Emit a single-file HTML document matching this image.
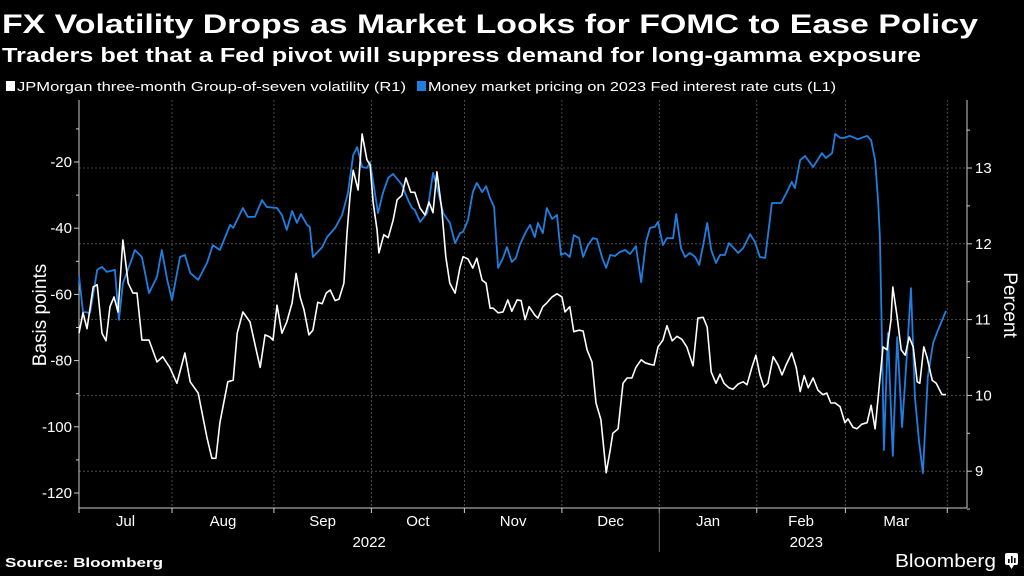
<!DOCTYPE html>
<html><head><meta charset="utf-8"><style>
html,body{margin:0;padding:0;background:#000;}
svg{display:block;font-family:"Liberation Sans",sans-serif;}
</style></head><body>
<svg id="chart" width="1024" height="576" viewBox="0 0 1024 576" xmlns="http://www.w3.org/2000/svg">
<rect width="1024" height="576" fill="#000"/>
<text x="2" y="33" fill="#fff" font-size="27" font-weight="bold" textLength="976" lengthAdjust="spacingAndGlyphs">FX Volatility Drops as Market Looks for FOMC to Ease Policy</text>
<text x="2" y="62" fill="#fff" font-size="20" font-weight="bold" textLength="919" lengthAdjust="spacingAndGlyphs">Traders bet that a Fed pivot will suppress demand for long-gamma exposure</text>
<g>
<g>
<rect x="6" y="81" width="9" height="10" fill="#fff"/>
<text x="17" y="91" fill="#fff" font-size="13" textLength="389" lengthAdjust="spacingAndGlyphs">JPMorgan three-month Group-of-seven volatility (R1)</text>
</g>
<g>
<rect x="417" y="81" width="9" height="10" fill="#1f7fe0"/>
<text x="428" y="91" fill="#fff" font-size="13" textLength="408" lengthAdjust="spacingAndGlyphs">Money market pricing on 2023 Fed interest rate cuts (L1)</text>
</g>
</g>
<g id="grid"></g>
<g id="axes"></g>
<g id="series"></g>
<text transform="translate(46,315) rotate(-90)" text-anchor="middle" fill="#fff" font-size="19">Basis points</text>
<text transform="translate(1004,305) rotate(90)" text-anchor="middle" fill="#fff" font-size="19">Percent</text>
<text x="5" y="567" fill="#fff" font-size="13" font-weight="bold" textLength="158" lengthAdjust="spacingAndGlyphs">Source: Bloomberg</text>
<g>
<text x="895" y="567" fill="#fff" font-size="18" textLength="101" lengthAdjust="spacingAndGlyphs">Bloomberg</text>
<rect x="1005" y="553" width="13" height="12" rx="2" fill="#fff"/>
<path d="M1009 565 L1011.5 569 L1014 565 Z" fill="#fff"/>
<rect x="1008" y="559" width="1.6" height="4" fill="#000"/><rect x="1011" y="556" width="1.6" height="7" fill="#000"/><rect x="1014" y="558" width="1.6" height="5" fill="#000"/>
</g>
</svg>
<script>
const monthLabels = ["Jul","Aug","Sep","Oct","Nov","Dec","Jan","Feb","Mar"];
const monthStartDays = [0,21,44,66,87,109,131,153,173,196];
const yearLabels = ["2022","2023"];
const leftTicks = [-20,-40,-60,-80,-100,-120];
const rightTicks = [9,10,11,12,13];
const blueDay = [0,0.9,2.5,4.1,5.2,6.3,8.1,9.0,9.9,12.0,12.6,14.2,15.8,17.6,18.7,19.9,21.0,22.8,23.9,25.1,26.9,28.9,30.2,31.8,34.1,34.8,37.0,38.1,39.7,41.3,42.4,44.7,45.8,46.9,48.1,49.2,50.1,51.5,52.1,52.8,54.9,56.0,57.8,59.4,60.7,61.9,62.8,63.9,65.0,65.7,66.4,67.5,68.6,69.8,70.9,72.9,74.3,75.2,75.8,77.0,78.6,79.9,81.0,82.2,83.7,84.9,86.0,86.7,87.8,88.9,89.8,91.0,91.9,92.8,93.7,94.6,95.7,96.6,97.7,98.6,99.5,100.7,101.8,102.9,103.6,104.7,105.6,106.8,107.9,108.8,109.7,110.8,111.7,112.9,113.8,114.9,116.0,116.9,118.1,119.0,119.9,121.0,122.1,123.3,124.4,125.7,126.9,128.0,128.9,130.0,130.7,131.8,132.7,134.1,134.8,135.9,136.8,137.9,139.1,140.0,140.9,141.8,142.7,143.8,144.7,145.8,146.7,147.6,148.8,149.9,151.5,152.6,153.7,154.9,156.4,158.5,159.8,160.9,161.6,162.8,163.9,165.7,167.7,168.6,170.0,170.7,171.8,172.9,174.0,175.8,177.9,178.8,179.7,180.4,180.8,181.3,181.7,182.6,183.7,184.7,185.8,186.9,187.8,188.7,189.6,190.5,191.6,192.8,193.9,195.7];
const blueVal = [-54.4,-65.3,-65.6,-52.6,-51.7,-53.2,-52.6,-67.7,-56.6,-49.0,-46.6,-48.7,-59.6,-54.7,-46.6,-55.6,-61.7,-48.7,-48.1,-53.5,-55.6,-50.5,-45.1,-46.6,-39.0,-39.9,-33.9,-36.6,-36.6,-31.5,-33.6,-33.9,-36.0,-40.5,-34.8,-38.4,-35.7,-39.0,-39.6,-48.7,-45.7,-42.7,-39.9,-36.0,-29.4,-17.9,-15.5,-21.5,-21.8,-20.0,-26.0,-35.4,-29.4,-24.8,-23.6,-26.9,-31.5,-33.9,-34.5,-38.1,-35.4,-23.3,-28.5,-35.4,-38.4,-44.5,-41.5,-41.1,-37.5,-29.1,-26.3,-29.1,-27.3,-30.9,-33.6,-52.0,-49.0,-45.7,-50.2,-49.0,-45.1,-41.5,-39.0,-42.7,-38.4,-41.5,-33.9,-37.2,-36.0,-48.1,-47.5,-48.7,-42.1,-43.0,-48.7,-45.1,-43.0,-43.3,-49.0,-52.0,-48.1,-48.4,-47.2,-46.6,-47.8,-45.4,-56.3,-44.2,-39.9,-39.6,-38.1,-45.1,-43.0,-43.0,-35.7,-46.0,-48.7,-47.5,-48.7,-51.1,-45.1,-38.4,-46.6,-50.5,-48.1,-48.1,-44.5,-45.7,-47.5,-46.0,-41.8,-44.2,-48.7,-49.0,-32.4,-32.4,-29.1,-26.0,-27.9,-19.4,-18.2,-21.5,-17.3,-18.8,-17.3,-11.5,-12.7,-12.7,-12.1,-13.1,-12.1,-13.4,-19.4,-32.4,-42.7,-77.7,-107.0,-71.7,-108.8,-72.9,-100.1,-77.7,-58.1,-91.0,-104.0,-114.0,-85.0,-74.7,-70.8,-65.0];
const whiteDay = [0,0.9,1.8,3.2,4.1,5.2,6.1,7.0,7.9,8.8,9.9,11.1,12.2,13.1,14.2,15.8,17.6,18.9,20.5,22.1,23.9,25.1,26.9,28.9,30.0,30.9,31.8,33.6,34.8,35.7,37.0,38.6,40.0,40.9,42.0,43.1,43.8,44.7,45.8,46.9,48.1,49.0,49.9,50.8,51.9,52.8,53.9,54.9,55.8,56.7,57.8,58.7,59.8,60.5,61.2,61.9,63.0,63.9,65.0,65.7,66.4,67.3,67.7,68.8,69.8,70.9,71.8,72.9,73.8,74.9,75.8,77.0,78.1,79.0,79.9,80.8,81.9,82.8,83.7,84.9,86.0,86.7,87.8,88.9,89.8,91.0,91.9,92.8,93.5,94.6,95.7,96.8,97.7,98.9,99.8,100.7,101.6,102.9,103.6,104.7,105.6,106.8,107.9,109.0,109.7,110.8,111.7,112.9,113.8,114.7,115.8,116.7,117.8,119.0,119.9,120.5,121.7,122.8,123.7,124.8,125.7,126.9,127.8,128.9,129.8,130.7,131.8,132.7,133.9,135.0,136.1,137.2,138.6,139.7,140.9,141.8,142.7,143.8,144.7,145.6,146.7,147.6,148.8,149.9,150.8,151.9,152.8,153.7,154.6,155.5,156.7,157.8,158.7,159.6,160.9,161.9,162.8,163.7,164.6,165.7,166.8,167.9,168.8,169.7,170.7,171.8,172.9,173.6,174.7,175.6,176.7,177.9,178.8,179.7,180.4,181.5,182.4,183.3,183.7,184.7,185.6,186.5,187.4,188.3,189.2,189.8,190.7,191.4,192.6,193.5,194.8,195.7];
const whiteVal = [10.82,11.09,10.88,11.43,11.46,10.82,10.72,11.17,11.30,11.10,12.05,11.48,11.35,11.35,10.73,10.73,10.44,10.51,10.37,10.16,10.56,10.18,10.03,9.44,9.17,9.17,9.64,10.18,10.20,10.82,11.10,10.97,10.60,10.37,10.80,10.77,10.73,11.19,10.82,10.97,11.22,11.61,11.30,11.13,10.80,10.86,11.23,11.21,11.35,11.39,11.25,11.27,11.48,12.14,12.64,12.97,12.71,13.45,13.11,13.04,12.54,12.18,11.88,12.12,12.08,12.31,12.58,12.64,12.87,12.68,12.68,12.47,12.38,12.55,12.41,12.95,12.45,11.83,11.48,11.35,11.69,11.83,11.80,11.68,11.81,11.52,11.48,11.15,11.15,11.09,11.10,11.26,11.11,11.26,11.25,11.00,11.17,11.06,11.02,11.17,11.22,11.30,11.34,11.30,11.10,11.17,10.84,10.86,10.85,10.60,10.44,9.90,9.68,8.98,9.28,9.50,9.56,10.16,10.23,10.23,10.37,10.47,10.43,10.41,10.40,10.64,10.73,10.92,10.72,10.78,10.74,10.64,10.39,11.02,11.03,10.90,10.31,10.16,10.28,10.16,10.10,10.08,10.15,10.18,10.14,10.37,10.53,10.27,10.11,10.16,10.51,10.40,10.27,10.40,10.56,10.37,10.05,10.26,10.10,10.23,10.07,10.01,10.03,9.90,9.90,9.85,9.64,9.69,9.58,9.56,9.62,9.64,9.87,9.56,9.98,10.64,10.60,11.00,11.43,11.03,10.60,10.53,10.77,10.64,10.18,10.16,10.64,10.51,10.20,10.16,10.01,10.01];

const NS='http://www.w3.org/2000/svg';
const X0=79, X1=967, YT=100, YB=508, PXDAY=4.43;
function xScale(d){return X0 + d*PXDAY;}
function yLeft(v){return 162 + (-20 - v)*3.31;}
function yRight(v){return 168 + (13 - v)*75.8;}
function mk(tag, attrs, parent){const e=document.createElementNS(NS,tag);for(const k in attrs)e.setAttribute(k,attrs[k]);parent.appendChild(e);return e;}
const grid=document.getElementById('grid'), axes=document.getElementById('axes'), series=document.getElementById('series');

rightTicks.forEach(v=>{
  const y=yRight(v);
  const g=mk('line',{x1:X0,x2:X1,y1:y,y2:y,stroke:'#5a5a5a','stroke-width':0.8,'stroke-dasharray':'2,2'},grid);
  
  
  const t=mk('line',{x1:X1,x2:X1+5,y1:y,y2:y,stroke:'#ccc','stroke-width':1},axes);
  
  
  const tt=mk('text',{x:X1+8,y:y+5,fill:'#fff','font-size':15},axes);
  tt.textContent=v;
  
  
  const m=mk('line',{x1:X1,x2:X1+3,y1:yRight(v+0.5),y2:yRight(v+0.5),stroke:'#ccc','stroke-width':1},axes);
  
  
});
const m8=mk('line',{x1:X1,x2:X1+3,y1:yRight(8.5),y2:yRight(8.5),stroke:'#ccc','stroke-width':1},axes);



leftTicks.forEach(v=>{
  const y=yLeft(v);
  const t=mk('line',{x1:X0-5,x2:X0,y1:y,y2:y,stroke:'#ccc','stroke-width':1},axes);
  
  
  const tt=mk('text',{x:X0-7,y:y+5,fill:'#fff','font-size':15,'text-anchor':'end'},axes);
  tt.textContent=v;
  
  
  const m=mk('line',{x1:X0-3,x2:X0,y1:yLeft(v+10),y2:yLeft(v+10),stroke:'#ccc','stroke-width':1},axes);
  
  
});

monthStartDays.forEach((d,i)=>{
  const x=xScale(d);
  if(i>0 && x<X1-5){
    const g=mk('line',{x1:x,x2:x,y1:YT,y2:YB,stroke:'#5a5a5a','stroke-width':0.8,'stroke-dasharray':'2,2'},grid);
    
    
  }
  const t=mk('line',{x1:x,x2:x,y1:YB,y2:YB+5,stroke:'#ccc','stroke-width':1},axes);
  
  
  if(i<monthLabels.length){
    const cx=(xScale(d)+xScale(monthStartDays[i+1]))/2;
    const tt=mk('text',{x:cx,y:526,fill:'#fff','font-size':15,'text-anchor':'middle'},axes);
    tt.textContent=monthLabels[i];
    
    
  }
});
const y22=mk('text',{x:(xScale(monthStartDays[0])+xScale(monthStartDays[6]))/2,y:547,fill:'#fff','font-size':15,'text-anchor':'middle'},axes);
y22.textContent=yearLabels[0];


const y23=mk('text',{x:(xScale(monthStartDays[6])+xScale(monthStartDays[9]))/2+3,y:547,fill:'#fff','font-size':15,'text-anchor':'middle'},axes);
y23.textContent=yearLabels[1];


const div=mk('line',{x1:xScale(monthStartDays[6]),x2:xScale(monthStartDays[6]),y1:YB,y2:552,stroke:'#666','stroke-width':1},axes);



const la=mk('line',{x1:X0,x2:X0,y1:YT,y2:YB,stroke:'#ccc','stroke-width':1},axes);


const ra=mk('line',{x1:X1,x2:X1,y1:YT,y2:YB,stroke:'#ccc','stroke-width':1},axes);


const ba=mk('line',{x1:X0,x2:X1,y1:YB,y2:YB,stroke:'#ccc','stroke-width':1},axes);



function pathFrom(days, vals, yf){return days.map((d,i)=>(i?'L':'M')+xScale(d).toFixed(1)+' '+yf(vals[i]).toFixed(1)).join(' ');}
const bl=mk('path',{d:pathFrom(blueDay,blueVal,yLeft),fill:'none',stroke:'#1f7fe0','stroke-width':1.8,'stroke-linejoin':'round'},series);


const wl=mk('path',{d:pathFrom(whiteDay,whiteVal,yRight),fill:'none',stroke:'#fff','stroke-width':1.6,'stroke-linejoin':'round'},series);


</script>
</body></html>
